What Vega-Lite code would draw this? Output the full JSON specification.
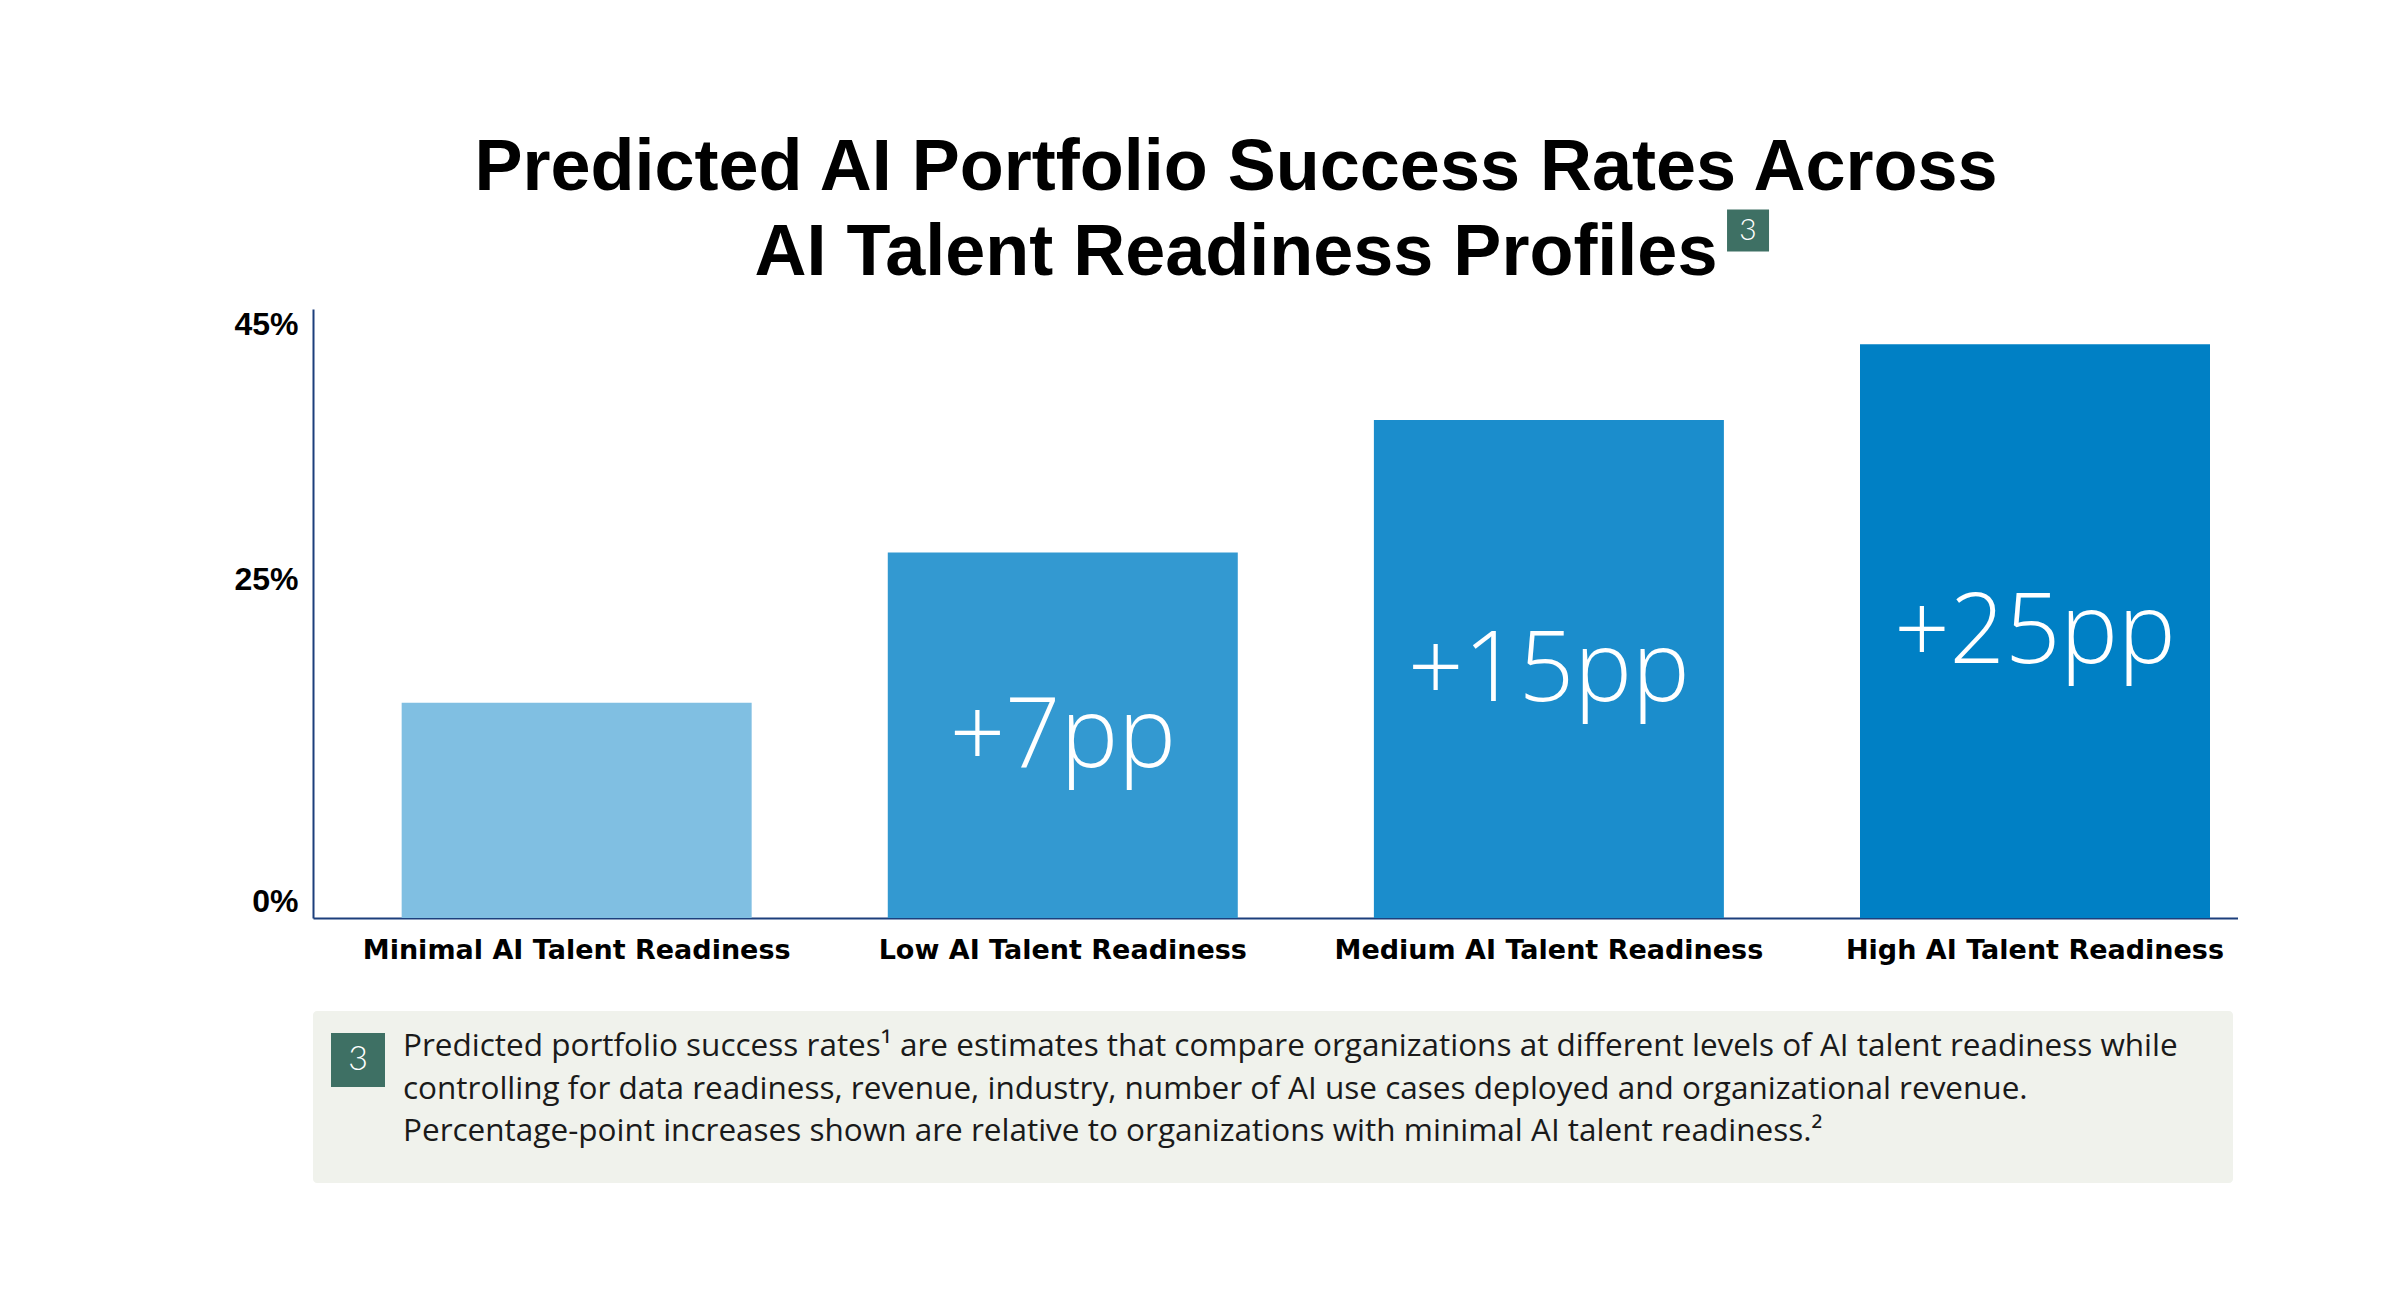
{
  "$schema": "https://vega.github.io/schema/vega-lite/v6.json",
  "background": "white",
  "padding": {"left": 233, "top": 131, "right": 0, "bottom": 0},
  "title": {
    "text": ["Predicted AI Portfolio Success Rates Across", "AI Talent Readiness Profiles"],
    "font": "Liberation Sans",
    "fontWeight": "bold",
    "fontSize": 72,
    "lineHeight": 85,
    "color": "#000000",
    "anchor": "middle",
    "offset": -80
  },
  "config": {"view": {"stroke": null}, "font": "Lato"},
  "bounds": "flush",
  "spacing": 93,
  "datasets": {
    "bars": [
      {"readiness": "Minimal AI Talent Readiness", "success": 15.9, "gain": ""},
      {"readiness": "Low AI Talent Readiness", "success": 27.0, "gain": "+7pp"},
      {"readiness": "Medium AI Talent Readiness", "success": 36.8, "gain": "+15pp"},
      {"readiness": "High AI Talent Readiness", "success": 42.4, "gain": "+25pp"}
    ],
    "note": [
      {"col": "marker", "row": "r1", "text": "3"},
      {"col": "note", "row": "r1", "text": "Predicted portfolio success rates¹ are estimates that compare organizations at different levels of AI talent readiness while"},
      {"col": "note", "row": "r2", "text": "controlling for data readiness, revenue, industry, number of AI use cases deployed and organizational revenue."},
      {"col": "note", "row": "r3", "text": "Percentage-point increases shown are relative to organizations with minimal AI talent readiness.²"}
    ]
  },
  "vconcat": [
    {
      "width": 1925,
      "height": 609,
      "data": {"name": "bars"},
      "layer": [
        {
          "mark": {"type": "bar"},
          "encoding": {
            "x": {
              "field": "readiness", "type": "nominal", "sort": null,
              "scale": {"paddingInner": 0.28, "paddingOuter": 0.12, "align": 0.76},
              "axis": {
                "title": null, "ticks": false, "labelAngle": 0, "labelLimit": 0,
                "domainColor": "#1c3f7c", "domainWidth": 2,
                "labelFont": "DejaVu Sans", "labelFontWeight": "bold",
                "labelFontSize": 27, "labelColor": "#000000", "labelPadding": 19
              }
            },
            "y": {
              "field": "success", "type": "quantitative",
              "scale": {"domain": [0, 45], "nice": false},
              "axis": {
                "title": null, "grid": false, "ticks": false,
                "values": [0, 25, 45], "labelExpr": "datum.value + '%'",
                "labelFlush": true,
                "domainColor": "#1c3f7c", "domainWidth": 2,
                "labelFont": "Liberation Sans", "labelFontWeight": "bold",
                "labelFontSize": 32, "labelColor": "#000000", "labelPadding": 15
              }
            },
            "color": {
              "field": "readiness", "type": "nominal", "sort": null,
              "scale": {"range": ["#80bfe2", "#3399d1", "#1b8dcc", "#0080c5"]},
              "legend": null
            }
          }
        },
        {
          "mark": {"type": "text", "color": "#ffffff", "font": "Open Sans", "fontWeight": 300, "fontSize": 97, "baseline": "middle", "dy": 3},
          "encoding": {
            "x": {"field": "readiness", "type": "nominal", "sort": null},
            "y": {"field": "success", "type": "quantitative", "scale": {"domain": [0, 90], "nice": false}, "axis": null},
            "text": {"field": "gain"}
          }
        },
        {
          "data": {"values": [{"ref": "3"}]},
          "mark": {"type": "square", "filled": true, "opacity": 1, "color": "#3e7064", "size": 1764},
          "encoding": {
            "x": {"datum": "Medium AI Talent Readiness", "bandPosition": 1.069},
            "y": {"datum": 50.8, "type": "quantitative", "scale": {"domain": [0, 45], "nice": false}, "axis": null}
          }
        },
        {
          "data": {"values": [{"ref": "3"}]},
          "mark": {"type": "text", "color": "#ffffff", "font": "Lato", "fontWeight": 300, "fontSize": 30, "baseline": "middle", "align": "center"},
          "encoding": {
            "x": {"datum": "Medium AI Talent Readiness", "bandPosition": 1.069},
            "y": {"datum": 50.8, "type": "quantitative", "scale": {"domain": [0, 45], "nice": false}, "axis": null},
            "text": {"field": "ref"}
          }
        }
      ],
      "resolve": {"scale": {"y": "independent"}}
    },
    {
      "width": 1920,
      "height": 172,
      "view": {"fill": "#f0f2ec", "stroke": null, "cornerRadius": 4},
      "data": {"name": "note"},
      "encoding": {
        "x": {"field": "col", "type": "nominal", "scale": {"type": "point", "domain": ["marker", "note"], "range": [45, 90], "padding": 0}, "axis": null},
        "y": {"field": "row", "type": "nominal", "scale": {"type": "point", "domain": ["r1", "r2", "r3"], "range": [45, 130], "padding": 0}, "axis": null}
      },
      "layer": [
        {
          "transform": [{"filter": "datum.col == 'marker'"}],
          "mark": {"type": "square", "filled": true, "opacity": 1, "color": "#3e7064", "size": 2916, "yOffset": 4}
        },
        {
          "transform": [{"filter": "datum.col == 'marker'"}],
          "mark": {"type": "text", "color": "#ffffff", "font": "Lato", "fontWeight": 300, "fontSize": 34, "align": "center", "baseline": "middle", "yOffset": 4},
          "encoding": {"text": {"field": "text"}}
        },
        {
          "transform": [{"filter": "datum.col == 'note'"}],
          "mark": {"type": "text", "color": "#1a1a1a", "font": "Open Sans", "fontSize": 31.5, "align": "left", "baseline": "alphabetic"},
          "encoding": {"text": {"field": "text"}}
        }
      ]
    }
  ]
}
